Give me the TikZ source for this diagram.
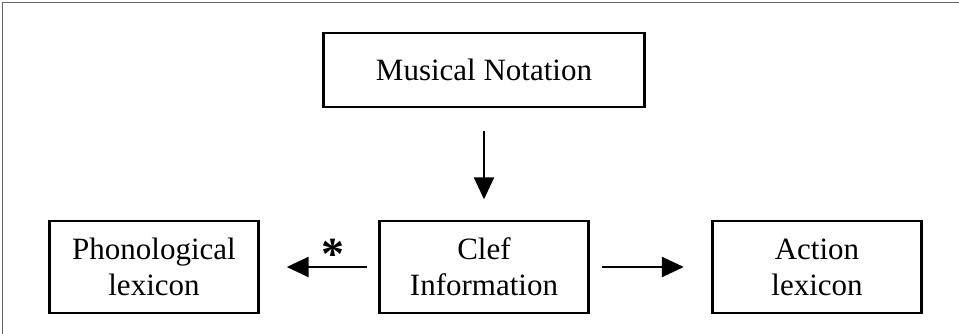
\documentclass[tikz,border=0pt]{standalone}
\usepackage{fontspec}
\setmainfont{Liberation Serif}
\usetikzlibrary{arrows.meta}
\begin{document}
\begin{tikzpicture}
[x=1pt, y=-1pt, node distance=330pt, font=\fontsize{31}{36}\selectfont]
\tikzstyle{module}=[draw, line width=2.4pt, align=center, inner sep=0pt, minimum width=209pt, minimum height=92pt]
\tikzstyle{route}=[line width=2.4pt, -{Triangle[length=22pt, width=20pt]}]
\useasboundingbox (0,0) rectangle (959,334);
\draw[gray!80!black, line width=0.9pt] (2,334) -- (2,2) -- (959,2);

\node[module]	(CI)	at (484,267)	{Clef\\Information};
\node[module]	(PL)	[left of=CI]	{Phonological\\lexicon};
\node[module]	(AL)	[right of=CI, xshift=3pt]	{Action\\lexicon};
\node[module]	(MN)	[above of=CI, node distance=197pt, minimum width=321pt, minimum height=74pt]	{Musical Notation};

\draw[route, shorten <=23pt, shorten >=20.5pt] (MN) -- (CI);
\draw[route, shorten <=11.5pt, shorten >=27pt] (CI) -- node[pos=0.38, above=-7pt, font=\fontsize{46}{46}\bfseries] {*} (PL);
\draw[route, shorten <=12.5pt, shorten >=27.5pt] (CI) -- (AL);
\end{tikzpicture}
\end{document}
